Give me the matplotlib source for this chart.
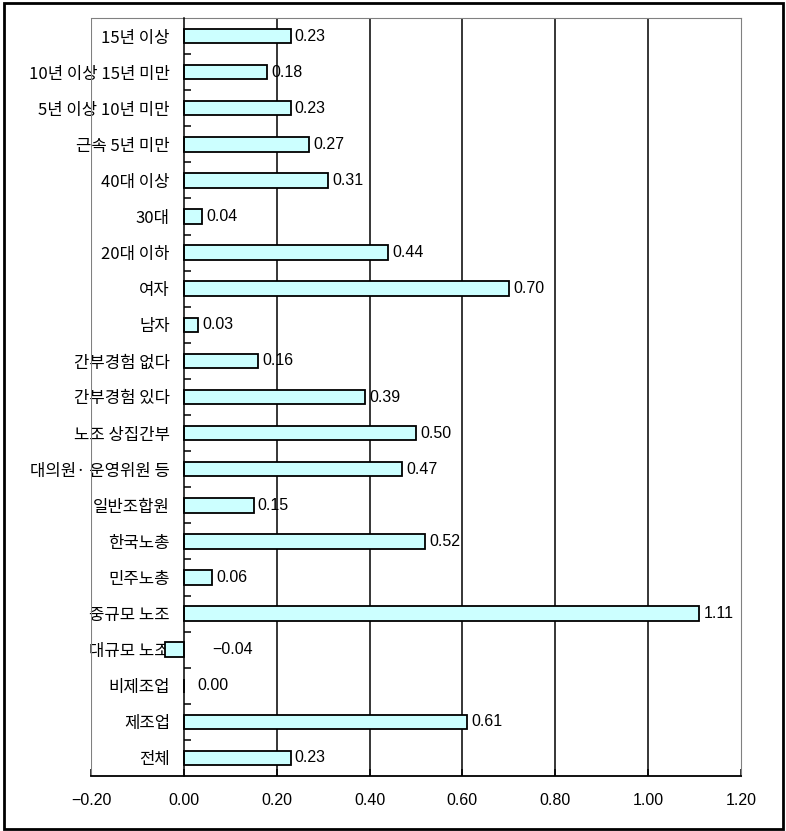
import matplotlib
matplotlib.use("Agg")
import matplotlib.pyplot as plt
from matplotlib.patches import Rectangle
from matplotlib.ticker import FixedLocator, FuncFormatter

plt.rcParams['font.family'] = ['Liberation Sans', 'Noto Sans CJK KR', 'DejaVu Sans']

# Categories listed from bottom to top
categories = [
    "전체", "제조업", "비제조업", "대규모 노조", "중규모 노조", "민주노총", "한국노총",
    "일반조합원", "대의원· 운영위원 등", "노조 상집간부", "간부경험 있다", "간부경험 없다",
    "남자", "여자", "20대 이하", "30대", "40대 이상", "근속 5년 미만",
    "5년 이상 10년 미만", "10년 이상 15년 미만", "15년 이상",
]
values = [
    0.23, 0.61, 0.00, -0.04, 1.11, 0.06, 0.52,
    0.15, 0.47, 0.50, 0.39, 0.16,
    0.03, 0.70, 0.44, 0.04, 0.31, 0.27,
    0.23, 0.18, 0.23,
]
x_ticks = [-0.20, 0.00, 0.20, 0.40, 0.60, 0.80, 1.00, 1.20]

W, H = 786, 831
fig = plt.figure(figsize=(W / 100, H / 100), dpi=100)
ax = fig.add_axes([91 / W, 1 - 776 / H, (741 - 91) / W, (776 - 18) / H])

ypos = list(range(len(categories)))

# vertical gridlines behind the bars
for t in x_ticks[2:-1]:
    ax.axvline(t, color="black", lw=1.1, zorder=1)

ax.barh(ypos, values, height=0.40, color="#CCFFFF", edgecolor="black",
        linewidth=1.3, zorder=3)

# value labels
num_fs = 11.5
cat_fs = 12
for y, v in zip(ypos, values):
    txt = f"{v:.2f}".replace("-", "\u2212")
    xpos = max(abs(v), 0.02) + (0.012 if v < 0 else 0)
    ax.annotate(txt, xy=(xpos, y), xytext=(3, 0), textcoords="offset points",
                ha="left", va="center", fontsize=num_fs, zorder=4)

ax.set_xlim(x_ticks[0], x_ticks[-1])
ax.set_ylim(-0.5, len(categories) - 0.5)

# category axis at x = 0
ax.spines['left'].set_position(('data', 0))
ax.spines['left'].set_color("black")
ax.spines['left'].set_linewidth(1.1)
ax.spines['left'].set_zorder(5)
ax.spines['top'].set_color("#808080")
ax.spines['right'].set_color("#808080")
ax.spines['bottom'].set_color("black")
ax.spines['bottom'].set_linewidth(1.3)
ax.axvline(x_ticks[0], color="#808080", lw=1.5, zorder=2)

ax.set_yticks(ypos)
ax.set_yticklabels(categories, fontsize=cat_fs,
                   family=['Noto Sans CJK KR', 'DejaVu Sans'])
ax.tick_params(axis='y', which='major', length=0, pad=10)
ax.yaxis.set_minor_locator(FixedLocator([i + 0.5 for i in range(len(categories) - 1)]))
ax.tick_params(axis='y', which='minor', direction='in', length=5, width=1.1, color="black")
for lbl in ax.get_yticklabels():
    lbl.set_zorder(6)

ax.set_xticks(x_ticks)
ax.xaxis.set_major_formatter(FuncFormatter(lambda v, p: f"{v:.2f}".replace("-", "\u2212")))
ax.tick_params(axis='x', direction='in', length=5, width=1.1, pad=12, labelsize=num_fs)

# outer frame of the figure
fig.patches.append(Rectangle((4 / W, 1 - 829 / H), (783 - 4) / W, (829 - 3) / H,
                             transform=fig.transFigure, fill=False,
                             edgecolor="black", linewidth=2))

fig.savefig("out.png", dpi=100)
